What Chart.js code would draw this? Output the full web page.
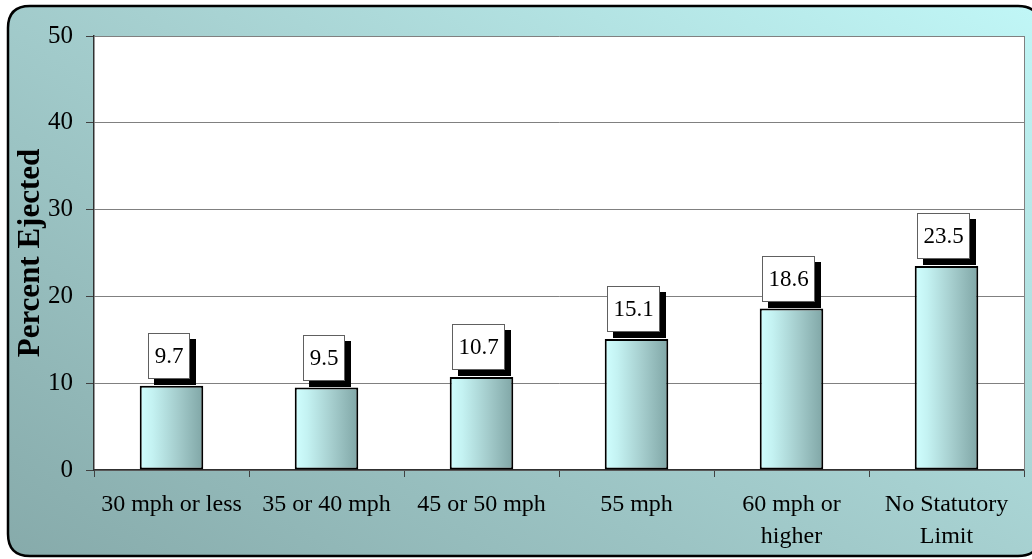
<!DOCTYPE html>
<html>
<head>
<meta charset="utf-8">
<script src="https://cdn.jsdelivr.net/npm/chart.js@4/dist/chart.umd.min.js"></script>
<style>
  html, body { margin: 0; padding: 0; background: #ffffff; }
  #wrap { width: 1032px; height: 559px; }
</style>
</head>
<body>
<div id="wrap"><canvas id="c" width="1032" height="559"></canvas></div>
<script>
// Speed limit categories and share of occupants ejected (%)
const categories = [
  '30 mph or less',
  '35 or 40 mph',
  '45 or 50 mph',
  '55 mph',
  ['60 mph or', 'higher'],
  ['No Statutory', 'Limit']
];
const percentEjected = [9.7, 9.5, 10.7, 15.1, 18.6, 23.5];
const yTicks = [0, 10, 20, 30, 40, 50];

const SERIF = '"Liberation Serif", "Times New Roman", serif';

// Rounded teal panel behind the chart and white plot area
const panelPlugin = {
  id: 'panel',
  beforeDraw(chart) {
    const ctx = chart.ctx;
    const W = chart.width, H = chart.height;
    ctx.save();
    ctx.fillStyle = '#ffffff';
    ctx.fillRect(0, 0, W, H);
    const x0 = 8, y0 = 6, x1 = 1040, y1 = 556, r = 22;
    const g = ctx.createLinearGradient(0, H, W * 0.55, -W * 0.35);
    g.addColorStop(0, '#86aaaa');
    g.addColorStop(0.5, '#a6d0d0');
    g.addColorStop(1, '#c4fcfc');
    ctx.beginPath();
    ctx.moveTo(x0 + r, y0);
    ctx.lineTo(x1 - r, y0);
    ctx.quadraticCurveTo(x1, y0, x1, y0 + r);
    ctx.lineTo(x1, y1 - r);
    ctx.quadraticCurveTo(x1, y1, x1 - r, y1);
    ctx.lineTo(x0 + r, y1);
    ctx.quadraticCurveTo(x0, y1, x0, y1 - r);
    ctx.lineTo(x0, y0 + r);
    ctx.quadraticCurveTo(x0, y0, x0 + r, y0);
    ctx.closePath();
    ctx.fillStyle = g;
    ctx.fill();
    ctx.lineWidth = 2.5;
    ctx.strokeStyle = '#000000';
    ctx.stroke();

    const a = chart.chartArea;
    ctx.fillStyle = '#ffffff';
    ctx.fillRect(a.left, a.top, a.right - a.left, a.bottom - a.top);
    ctx.restore();
  },
  afterDraw(chart) {
    const ctx = chart.ctx;
    const a = chart.chartArea;
    ctx.save();
    ctx.strokeStyle = '#808080';
    ctx.lineWidth = 1;
    ctx.beginPath();
    ctx.moveTo(Math.round(a.right) + 0.5, a.top);
    ctx.lineTo(Math.round(a.right) + 0.5, a.bottom);
    ctx.stroke();
    ctx.restore();
  }
};

// Value callouts: white box with a black drop shadow above each bar
const calloutPlugin = {
  id: 'callouts',
  afterDatasetsDraw(chart) {
    const ctx = chart.ctx;
    const meta = chart.getDatasetMeta(0);
    ctx.save();
    ctx.font = '23px ' + SERIF;
    ctx.textAlign = 'center';
    ctx.textBaseline = 'middle';
    meta.data.forEach((bar, i) => {
      const txt = percentEjected[i].toFixed(1);
      const tw = ctx.measureText(txt).width;
      const w = Math.round(tw + 13);
      const h = 46;
      const cx = bar.x - 3;
      const bx = Math.round(cx - w / 2);
      const by = Math.round(bar.y - 7 - h);
      ctx.fillStyle = '#000000';
      ctx.fillRect(bx + 6, by + 6, w, h);
      ctx.fillStyle = '#ffffff';
      ctx.fillRect(bx, by, w, h);
      ctx.strokeStyle = '#606060';
      ctx.lineWidth = 1;
      ctx.strokeRect(bx + 0.5, by + 0.5, w - 1, h - 1);
      ctx.fillStyle = '#000000';
      ctx.fillText(txt, bx + w / 2, by + h / 2 + 1);
    });
    ctx.restore();
  }
};

function barGradient(c) {
  const ch = c.chart;
  const xs = ch.scales && ch.scales.x;
  if (!xs || !ch.chartArea) return '#b0d8d8';
  const cx = xs.getPixelForValue(c.dataIndex);
  const w = (xs.width / categories.length) * 0.41;
  const g = ch.ctx.createLinearGradient(cx - w / 2, 0, cx + w / 2, 0);
  g.addColorStop(0, '#d0ffff');
  g.addColorStop(0.2, '#c4f2f2');
  g.addColorStop(0.6, '#a4cccc');
  g.addColorStop(1, '#80a6a6');
  return g;
}

new Chart(document.getElementById('c'), {
  type: 'bar',
  data: {
    labels: categories,
    datasets: [{
      data: percentEjected,
      backgroundColor: barGradient,
      borderColor: '#000000',
      borderWidth: 2,
      borderSkipped: false,
      categoryPercentage: 1.0,
      barPercentage: 0.41
    }]
  },
  options: {
    responsive: false,
    devicePixelRatio: 1,
    animation: false,
    layout: { padding: { left: 0, top: 36, right: 8, bottom: 0 } },
    plugins: {
      legend: { display: false },
      tooltip: { enabled: false }
    },
    scales: {
      x: {
        grid: {
          display: true,
          drawOnChartArea: false,
          drawTicks: true,
          tickLength: 7,
          tickColor: '#404040',
          offset: true
        },
        border: { display: true, color: '#303030', width: 1.5 },
        ticks: {
          color: '#000000',
          font: { family: SERIF, size: 24, lineHeight: 1.33 },
          padding: 12,
          maxRotation: 0,
          autoSkip: false
        },
        afterFit(scale) { scale.height = 89; }
      },
      y: {
        min: 0,
        max: 50,
        afterBuildTicks(scale) { scale.ticks = yTicks.map(v => ({ value: v })); },
        grid: {
          color: '#808080',
          lineWidth: 1,
          drawTicks: true,
          tickLength: 8,
          tickColor: '#404040'
        },
        border: { display: true, color: '#303030', width: 1.5 },
        ticks: {
          color: '#000000',
          font: { family: SERIF, size: 25 },
          padding: 13
        },
        title: {
          display: true,
          text: 'Percent Ejected',
          color: '#000000',
          font: { family: SERIF, size: 31, weight: 'bold', lineHeight: 1.2 },
          padding: { top: 12, bottom: 0 }
        },
        afterFit(scale) { scale.width = 94; }
      }
    }
  },
  plugins: [panelPlugin, calloutPlugin]
});
</script>
</body>
</html>
